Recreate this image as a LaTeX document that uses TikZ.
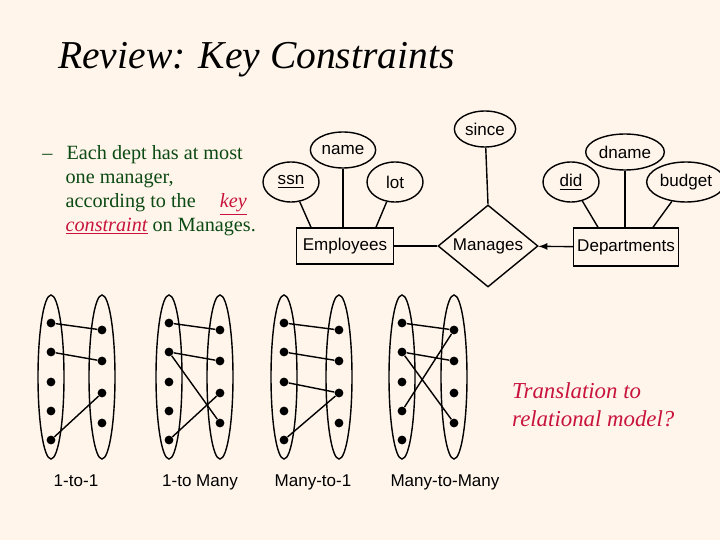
\documentclass[tikz,border=0pt]{standalone}
\usepackage{fontspec}
\setmainfont{Liberation Serif}
\setsansfont{Liberation Sans}
\usetikzlibrary{shapes.geometric,arrows,positioning}
\definecolor{cream}{HTML}{FFF5EB}
\definecolor{txtgreen}{HTML}{0B4A12}
\definecolor{keyred}{HTML}{C8143C}
\begin{document}
\begin{tikzpicture}[x=0.02cm,y=-0.02cm]
\tikzstyle{attr} = [draw, ellipse, thick, inner sep=1pt, font=\sffamily\fontsize{9.7}{11}\selectfont]
\tikzstyle{entity} = [draw, rectangle, thick, inner sep=2pt, minimum height=36*0.02cm, font=\sffamily\fontsize{9.7}{11}\selectfont]
\tikzstyle{rel} = [draw, diamond, thick, aspect=1.2, inner sep=0pt, minimum width=100*0.02cm, minimum height=82*0.02cm, font=\sffamily\fontsize{9.7}{11}\selectfont]
\tikzstyle{dot} = [circle, fill=black, inner sep=0pt, minimum size=5pt]
\tikzstyle{set} = [draw, ellipse, thick, minimum width=26*0.02cm, minimum height=164*0.02cm]
\tikzstyle{caption} = [anchor=base, font=\sffamily\fontsize{9.7}{11}\selectfont]
\fill[cream] (0,0) rectangle (720,540);
\useasboundingbox (0,0) rectangle (720,540);

% title and text
\node[anchor=west, font=\itshape\fontsize{22.5}{26}\selectfont] (title) at (52,60) {Review: Key Constraints};
\node[anchor=north west, align=left, text=txtgreen, font=\fontsize{11.5}{13.6}\selectfont, inner sep=0pt] (txt) at (42,145)
 {--\hspace{0.7em}Each dept has at most\\
  \hspace{1.15em}one manager,\\
  \hspace{1.15em}according to the\hspace{1.2em}{\color{keyred}\itshape\underline{key}}\\
  \hspace{1.15em}{\color{keyred}\itshape\underline{constraint}} on Manages.};
\node[anchor=west, align=left, text=keyred, font=\itshape\fontsize{13}{16}\selectfont] (trans) at (506,405) {Translation to\\relational model?};

% ER diagram
\node[entity, minimum width=97*0.02cm] (emp) at (345,246) {Employees};
\node[rel] (man) at (488,246) {Manages};
\node[entity, minimum width=101*0.02cm, minimum height=38*0.02cm] (dept) at (626,247) {Departments};
\node[attr, minimum width=56*0.02cm, minimum height=36*0.02cm] (since) at (485,129) {since};
\node[attr, minimum width=58*0.02cm, minimum height=36*0.02cm] (name) at (343,150) {name};
\node[attr, minimum width=56*0.02cm, minimum height=40*0.02cm] (ssn) at (291,182) {\underline{ssn}};
\node[attr, minimum width=56*0.02cm, minimum height=40*0.02cm] (lot) at (395,182) {lot};
\node[attr, minimum width=56*0.02cm, minimum height=40*0.02cm] (did) at (571,182) {\underline{did}};
\node[attr, minimum width=74*0.02cm, minimum height=36*0.02cm] (dname) at (625,152) {dname};
\node[attr, minimum width=68*0.02cm, minimum height=40*0.02cm] (budget) at (686,182) {budget};
\draw[thick] (ssn) -- (311,0 |- emp.north);
\draw[thick] (name) -- (emp.north -| name);
\draw[thick] (lot) -- (376,0 |- emp.north);
\draw[thick] (since) -- (man.north);
\draw[thick] (did) -- (598,0 |- dept.north);
\draw[thick] (dname) -- (dept.north -| dname);
\draw[thick] (budget) -- (653,0 |- dept.north);
\draw[thick] (emp) -- (man);
\draw[thick, -latex] (dept) -- (man);

% mapping pictures
\foreach \g/\lx/\rx in {a/51/102, b/169/220, c/284/339, d/402/454} {
  \node[set] (\g L) at (\lx,377) {};
  \node[set] (\g R) at (\rx,377) {};
  \foreach \i/\y in {1/323, 2/352, 3/382, 4/411, 5/440}
    \node[dot] (\g l\i) at (\lx,\y) {};
  \foreach \i/\y in {1/330, 2/361, 3/393, 4/423}
    \node[dot] (\g r\i) at (\rx,\y) {};
}
\draw[thick] (al1) -- (ar1) (al2) -- (ar2) (al5) -- (ar3);
\draw[thick] (bl1) -- (br1) (bl2) -- (br2) (bl2) -- (br4) (bl5) -- (br3);
\draw[thick] (cl1) -- (cr1) (cl2) -- (cr2) (cl3) -- (cr3) (cl5) -- (cr3);
\draw[thick] (dl1) -- (dr1) (dl2) -- (dr2) (dl2) -- (dr4) (dl4) -- (dr1);
\node[caption] (c1) at (76,486) {1-to-1};
\node[caption] (c2) at (200,486) {1-to Many};
\node[caption] (c3) at (313,486) {Many-to-1};
\node[caption] (c4) at (445,486) {Many-to-Many};
\end{tikzpicture}
\end{document}
